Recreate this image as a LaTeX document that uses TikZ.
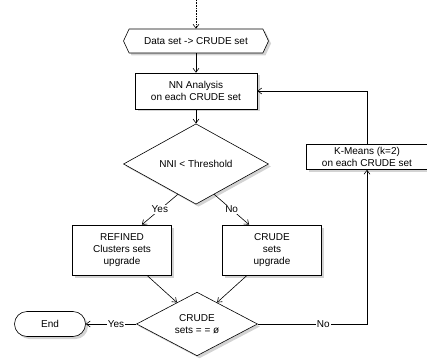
\documentclass[tikz,border=0pt]{standalone}
\usepackage{fontspec}
\setmainfont{Liberation Sans}
\usetikzlibrary{shapes.geometric,shapes.misc,shapes.symbols,shadows,calc,arrows.meta}
\begin{document}
\begin{tikzpicture}[x=1pt, y=-1pt, font=\fontsize{10}{12}\selectfont, line width=0.6pt,
		>={Straight Barb[length=4pt, width=6pt]},
		sombra/.style={drop shadow={shadow xshift=2.5pt, shadow yshift=-2.5pt, opacity=0.35}},
		caja/.style={draw, fill=white, align=center, inner sep=1pt, sombra},
		rombo/.style={caja, diamond, inner sep=0pt},
		etiq/.style={fill=white, inner sep=1pt}]
		\useasboundingbox (0,0) rectangle (427,358);
		% Entrada
		\coordinate (ini) at (196,0);
		\node[caja, signal, signal to=east and west, signal pointer angle=130,
			minimum width=145, minimum height=24] (datos) at (196,41) {Data set -> CRUDE set};
		% Analisis NN y decision
		\node[caja, minimum width=122, minimum height=36] (nn) at (196,91) {NN Analysis\\on each CRUDE set};
		\node[rombo, minimum width=145, minimum height=51] (nni) at (196,164) {NNI < Threshold};
		% Ramas
		\node[caja, minimum width=99, minimum height=50] (refinado) at (122,250) {REFINED\\Clusters sets\\upgrade};
		\node[caja, minimum width=99, minimum height=50] (crudo) at (272,250) {CRUDE\\sets\\upgrade};
		% Condicion final
		\node[rombo, minimum width=121, minimum height=61] (vacio) at (197,324) {CRUDE\\sets = = ø};
		\node[caja, rounded rectangle, minimum width=73, minimum height=25] (fin) at (50,324) {End};
		% Bucle K-Means
		\node[caja, minimum width=121, minimum height=25] (kmeans) at (367,157) {K-Means (k=2)\\on each CRUDE set};
		% Conexiones
		\draw[->, densely dotted] (ini) -- (datos.north);
		\draw[->] (datos.south) -- (nn.north);
		\draw[->] (nn.south) -- (nni.north);
		\draw[->] ($(nni.south)!0.25!(nni.west)$) -- node[etiq] {Yes} ($(refinado.north west)!0.7!(refinado.north east)$);
		\draw[->] ($(nni.south)!0.25!(nni.east)$) -- node[etiq] {No} ($(crudo.north west)!0.27!(crudo.north east)$);
		\draw[->] ($(refinado.south west)!0.75!(refinado.south east)$) -- ($(vacio.north)!0.33!(vacio.west)$);
		\draw[->] ($(crudo.south west)!0.25!(crudo.south east)$) -- ($(vacio.north)!0.33!(vacio.east)$);
		\draw[->] (vacio.west) -- node[etiq, pos=0.4] {Yes} (fin.east);
		\draw[->] (vacio.east) -| node[etiq, pos=0.3] {No} (kmeans.south);
		\draw[->] (kmeans.north) |- (nn.east);
	\end{tikzpicture}
\end{document}
